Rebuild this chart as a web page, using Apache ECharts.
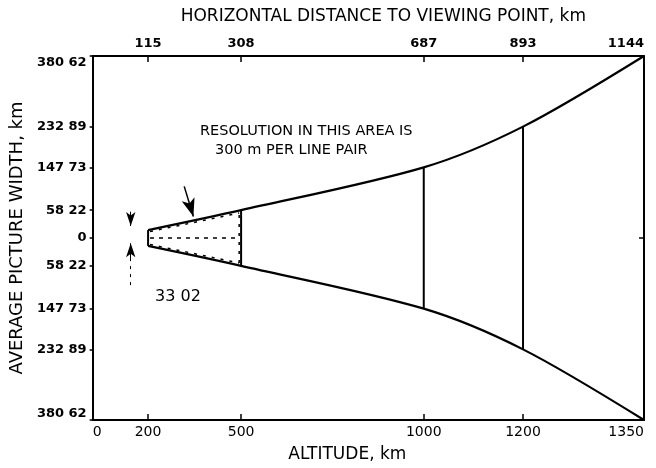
<!DOCTYPE html>
<html>
<head>
<meta charset="utf-8">
<script src="https://cdn.jsdelivr.net/npm/echarts@6/dist/echarts.min.js"></script>
<style>
html,body{margin:0;padding:0;background:#fff;}
#chart{width:656px;height:468px;}
</style>
</head>
<body>
<div id="chart"></div>
<script>
// ---- data ----
const distances = [115, 308, 687, 893, 1144];          // horizontal distance to viewing point, km
const altitudes = [200, 500, 1000, 1200, 1350];        // altitude, km
const halfWidths = [16.51, 58.22, 147.73, 232.89, 380.62]; // half picture width, km
const widthTicks = [58.22, 147.73, 232.89, 380.62];
const narrowWidthLabel = '33 02';
const resolutionText = ['RESOLUTION IN THIS AREA IS', '300 m PER LINE PAIR'];

const FONT = 'DejaVu Sans';
const xMax = distances[distances.length - 1];
const yMax = widthTicks[widthTicks.length - 1];

const bottomTickValues = [0].concat(distances);
const bottomTickLabels = [0].concat(altitudes);
const yTickValues = widthTicks.map(v => -v).reverse().concat([0]).concat(widthTicks);

const upper = distances.map((d, i) => [d, halfWidths[i]]);
const lower = distances.map((d, i) => [d, -halfWidths[i]]);

const lineBase = {type: 'line', showSymbol: false, symbol: 'none', silent: true,
  xAxisIndex: 0, yAxisIndex: 0, animation: false};

const series = [
  Object.assign({}, lineBase, {data: upper, smooth: 0.3, lineStyle: {color: '#000', width: 2.2}}),
  Object.assign({}, lineBase, {data: lower, smooth: 0.3, lineStyle: {color: '#000', width: 2.2}})
];
// vertical cross-section lines
for (let i = 0; i < distances.length - 1; i++) {
  series.push(Object.assign({}, lineBase, {
    data: [[distances[i], -halfWidths[i]], [distances[i], halfWidths[i]]],
    lineStyle: {color: '#000', width: 2}
  }));
}
// hatched (dashed) area between first two sections
const inset = 6;
series.push(Object.assign({}, lineBase, {
  data: [[distances[0] + 4, 0], [distances[1] - 4, 0]],
  lineStyle: {color: '#000', width: 1.5, type: [4, 5]},
  markLine: {
    silent: true, animation: false,
    label: {show: false},
    lineStyle: {color: '#000', width: 1, type: 'solid'},
    data: [
      [{coord: [79, 55], symbol: 'none'}, {coord: [79, 25], symbol: 'arrow', symbolSize: [7, 14]}],
      [{coord: [79, -42], symbol: 'none'}, {coord: [79, -11], symbol: 'arrow', symbolSize: [7, 14]}],
      [{coord: [79, -42], symbol: 'none', lineStyle: {type: [3, 5]}}, {coord: [79, -105], symbol: 'none'}],
      [{coord: [190, 108], symbol: 'none', lineStyle: {width: 1.5}}, {coord: [209, 45], symbol: 'arrow', symbolSize: [10, 18]}]
    ]
  }
}));
series.push(Object.assign({}, lineBase, {
  data: [[distances[0] + 4, halfWidths[0] - inset / 2], [distances[1] - 4, halfWidths[1] - inset]],
  lineStyle: {color: '#000', width: 1.5, type: [3, 6]}
}));
series.push(Object.assign({}, lineBase, {
  data: [[distances[0] + 4, -halfWidths[0] + inset / 2], [distances[1] - 4, -halfWidths[1] + inset]],
  lineStyle: {color: '#000', width: 1.5, type: [3, 6]}
}));
series.push(Object.assign({}, lineBase, {
  data: [[distances[1] - 4, -halfWidths[1] + inset], [distances[1] - 4, halfWidths[1] - inset]],
  lineStyle: {color: '#000', width: 1.5, type: [3, 6]}
}));

const option = {
  backgroundColor: '#fff',
  animation: false,
  grid: {left: 92, right: 12, top: 56, bottom: 44, containLabel: false},
  xAxis: [
    {
      type: 'value', position: 'bottom', min: 0, max: xMax,
      name: 'ALTITUDE, km', nameLocation: 'middle', nameGap: 26,
      nameTextStyle: {fontFamily: FONT, fontSize: 17, color: '#000', padding: [0, 42, 0, 0]},
      axisLine: {show: true, onZero: false, lineStyle: {color: '#000', width: 2}},
      axisTick: {show: true, inside: true, length: 6, customValues: distances.slice(0, -1), lineStyle: {color: '#000', width: 1.5}},
      axisLabel: {show: true, customValues: bottomTickValues, margin: 5,
        fontFamily: FONT, fontSize: 14, color: '#000',
        alignMinLabel: 'left', alignMaxLabel: 'right',
        formatter: v => { const k = bottomTickValues.indexOf(v); return k >= 0 ? String(bottomTickLabels[k]) : ''; }},
      splitLine: {show: false}
    },
    {
      type: 'value', position: 'top', min: 0, max: xMax,
      name: 'HORIZONTAL DISTANCE TO VIEWING POINT, km', nameLocation: 'middle', nameGap: 31,
      nameTextStyle: {fontFamily: FONT, fontSize: 17, color: '#000', padding: [0, 0, 0, 30]},
      axisLine: {show: true, onZero: false, lineStyle: {color: '#000', width: 2}},
      axisTick: {show: true, inside: true, length: 6, customValues: distances.slice(0, -1), lineStyle: {color: '#000', width: 1.5}},
      axisLabel: {show: true, customValues: distances, margin: 6,
        fontFamily: FONT, fontSize: 13, color: '#000', fontWeight: 'bold',
        alignMaxLabel: 'right', formatter: v => String(v)},
      splitLine: {show: false}
    }
  ],
  yAxis: [
    {
      type: 'value', position: 'left', min: -yMax, max: yMax,
      name: 'AVERAGE PICTURE WIDTH, km', nameLocation: 'middle', nameGap: 66, nameRotate: 90,
      nameTextStyle: {fontFamily: FONT, fontSize: 18, color: '#000'},
      axisLine: {show: true, onZero: false, lineStyle: {color: '#000', width: 2}},
      axisTick: {show: true, inside: false, length: 3, customValues: yTickValues, lineStyle: {color: '#000', width: 1.5}},
      axisLabel: {show: true, customValues: yTickValues, margin: 6,
        fontFamily: FONT, fontSize: 13, fontWeight: 'bold', color: '#000',
        verticalAlignMinLabel: 'bottom', verticalAlignMaxLabel: 'top',
        formatter: v => Math.abs(v) === 0 ? '0' : Math.abs(v).toFixed(2).replace('.', ' ')},
      splitLine: {show: false}
    },
    {
      type: 'value', position: 'right', min: -yMax, max: yMax,
      axisLine: {show: true, onZero: false, lineStyle: {color: '#000', width: 2}},
      axisTick: {show: true, inside: true, length: 5, customValues: [0], lineStyle: {color: '#000', width: 1.5}},
      axisLabel: {show: false},
      splitLine: {show: false}
    }
  ],
  graphic: [
    {type: 'text', left: 200, top: 124, silent: true,
      style: {text: resolutionText[0], font: '14.5px "DejaVu Sans"', fill: '#000'}},
    {type: 'text', left: 215, top: 143, silent: true,
      style: {text: resolutionText[1], font: '14.5px "DejaVu Sans"', fill: '#000'}},
    {type: 'text', left: 155, top: 289, silent: true,
      style: {text: narrowWidthLabel, font: '16px "DejaVu Sans"', fill: '#000'}}
  ],
  series: series
};

const chart = echarts.init(document.getElementById('chart'), null, {renderer: 'canvas'});
chart.setOption(option);
</script>
</body>
</html>
